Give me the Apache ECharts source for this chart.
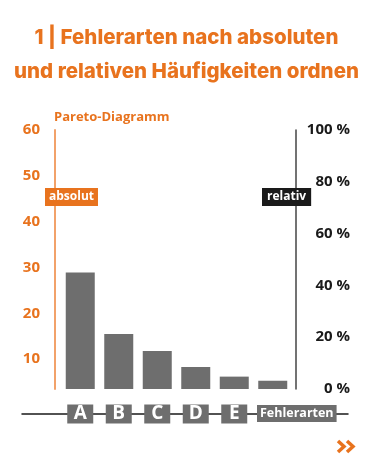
<!DOCTYPE html>
<html>
<head>
<meta charset="utf-8">
<script src="https://cdn.jsdelivr.net/npm/echarts@6/dist/echarts.min.js"></script>
<style>html,body{margin:0;padding:0;background:#fff}#c{width:373px;height:466px}</style>
</head>
<body>
<div id="c"></div>
<script>
const categories = ['A', 'B', 'C', 'D', 'E', 'F'];
const absoluteValues = [28.9, 15.5, 11.8, 8.3, 6.2, 5.3];
const absoluteTicks = [10, 20, 30, 40, 50, 60];
const axisName = 'Fehlerarten';
const titleText = '1 | Fehlerarten nach absoluten\nund relativen Häufigkeiten ordnen';

const ORANGE = '#e8731e';
const GRAY = '#6e6e6e';
const DARK = '#1a1a1a';
const LABEL_FONT = '"Open Sans", "DejaVu Sans", sans-serif';

const chart = echarts.init(document.getElementById('c'));
chart.setOption({
  animation: false,
  title: {
    text: titleText,
    left: 'center',
    top: 16,
    textStyle: {
      fontFamily: 'Inter, "Open Sans", sans-serif',
      fontWeight: 800,
      fontSize: 20.5,
      lineHeight: 34,
      color: ORANGE
    }
  },
  grid: [
    { left: 61, right: 81, top: 130, bottom: 77, outerBoundsMode: 'none', containLabel: false },
    { left: 22, right: 25, top: 300, bottom: 52, outerBoundsMode: 'none', containLabel: false }
  ],
  xAxis: [
    {
      type: 'category',
      gridIndex: 0,
      data: categories,
      position: 'bottom',
      offset: 25,
      z: 3,
      axisLine: { show: false },
      axisTick: { show: false },
      axisLabel: {
        interval: 0,
        margin: 0,
        verticalAlign: 'middle',
        formatter: function (v, i) { return i < categories.length - 1 ? '{b|' + v + '}' : ''; },
        rich: {
          b: {
            backgroundColor: GRAY,
            color: '#fff',
            fontFamily: LABEL_FONT,
            fontWeight: 'bold',
            fontSize: 19,
            lineHeight: 17,
            width: 14,
            align: 'center',
            padding: [0, 6, 0, 6]
          }
        }
      }
    },
    {
      type: 'value',
      gridIndex: 1,
      z: 1,
      axisLine: { show: true, onZero: false, lineStyle: { color: DARK, width: 1.5 } },
      axisTick: { show: false },
      axisLabel: { show: false },
      splitLine: { show: false }
    }
  ],
  yAxis: [
    {
      type: 'value',
      gridIndex: 0,
      position: 'left',
      min: 3.5,
      max: 60,
      offset: 6,
      axisLine: { show: true, lineStyle: { color: '#f2a26a', width: 2 } },
      axisTick: { show: false },
      splitLine: { show: false },
      axisLabel: {
        customValues: absoluteTicks,
        margin: 15,
        color: ORANGE,
        fontFamily: LABEL_FONT,
        fontWeight: 'bold',
        fontSize: 15
      }
    },
    {
      type: 'value',
      gridIndex: 0,
      position: 'right',
      min: 0,
      max: 100,
      interval: 20,
      offset: 4,
      axisLine: { show: true, lineStyle: { color: '#444', width: 1.5 } },
      axisTick: { show: false },
      splitLine: { show: false },
      axisLabel: {
        formatter: '{value} %',
        align: 'right',
        margin: 54,
        color: DARK,
        fontFamily: LABEL_FONT,
        fontWeight: 'bold',
        fontSize: 15
      }
    },
    { type: 'value', gridIndex: 1, show: false }
  ],
  series: [
    {
      type: 'bar',
      xAxisIndex: 0,
      yAxisIndex: 0,
      data: absoluteValues,
      barWidth: 29,
      clip: true,
      itemStyle: { color: GRAY }
    }
  ],
  graphic: [
    {
      type: 'text',
      left: 54,
      top: 111,
      style: {
        text: 'Pareto-Diagramm',
        fill: ORANGE,
        font: 'bold 13px "Open Sans", sans-serif'
      }
    },
    {
      type: 'text',
      left: 45,
      top: 188,
      z: 10,
      style: {
        text: 'absolut',
        fill: '#fff',
        backgroundColor: ORANGE,
        padding: [2, 4, 2, 4],
        lineHeight: 14,
        font: 'bold 12px "Open Sans", sans-serif'
      }
    },
    {
      type: 'text',
      left: 262,
      top: 188,
      z: 10,
      style: {
        text: 'relativ',
        fill: '#fff',
        backgroundColor: DARK,
        padding: [2, 5, 2, 5],
        lineHeight: 14,
        font: 'bold 12px "Open Sans", sans-serif'
      }
    },
    {
      type: 'text',
      left: 257,
      top: 405,
      z: 10,
      style: {
        text: axisName,
        fill: '#fff',
        backgroundColor: GRAY,
        padding: [0, 3, 0, 3],
        lineHeight: 17,
        font: 'bold 12.5px "Open Sans", sans-serif'
      }
    },
    {
      type: 'polyline',
      shape: { points: [[338, 441], [344, 446.5], [338, 452]] },
      style: { stroke: ORANGE, lineWidth: 3.5, fill: null }
    },
    {
      type: 'polyline',
      shape: { points: [[347, 441], [353, 446.5], [347, 452]] },
      style: { stroke: ORANGE, lineWidth: 3.5, fill: null }
    }
  ]
});
</script>
</body>
</html>
